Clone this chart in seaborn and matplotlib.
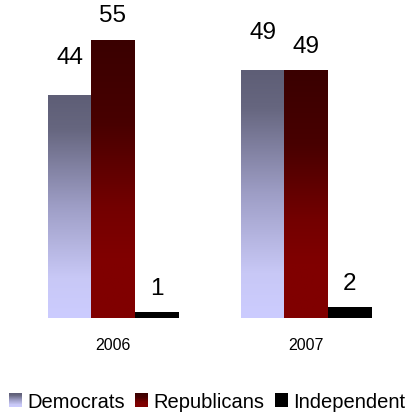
import numpy as np
import pandas as pd
import matplotlib
matplotlib.use("Agg")
import matplotlib.pyplot as plt
import seaborn as sns
from matplotlib import font_manager
from matplotlib.colors import LinearSegmentedColormap
from matplotlib.legend_handler import HandlerBase
from matplotlib.image import BboxImage
from matplotlib.transforms import Bbox, TransformedBbox
from matplotlib.patches import Patch

years = ["2006", "2007"]
parties = ["Democrats", "Republicans", "Independent"]
democrats = [44, 49]
republicans = [55, 49]
independent = [1, 2]

sns.set_style("white")
plt.rcParams["font.family"] = ["Liberation Sans", "DejaVu Sans"]

# pick a narrow font for the year labels if one is installed
narrow = None
for fam in ["Liberation Sans Narrow", "Arial Narrow", "DejaVu Sans Condensed"]:
    try:
        font_manager.findfont(font_manager.FontProperties(family=fam),
                              fallback_to_default=False)
        narrow = fam
        break
    except Exception:
        pass

df = pd.DataFrame({
    "year": years * 3,
    "party": [p for p in parties for _ in years],
    "value": democrats + republicans + independent,
})

# top -> bottom gradients
cmaps = {
    "Democrats": LinearSegmentedColormap.from_list(
        "dem", [(0, "#5e5e76"), (0.15, "#66667f"), (0.5, "#9e9ec6"),
                (0.82, "#c8c8f6"), (1, "#ccccff")]),
    "Republicans": LinearSegmentedColormap.from_list(
        "rep", [(0, "#3a0000"), (0.3, "#480000"), (0.6, "#730000"),
                (0.78, "#800000"), (1, "#800000")]),
    "Independent": LinearSegmentedColormap.from_list(
        "ind", ["#000000", "#000000"]),
}
label_offsets = {"Democrats": 39, "Republicans": 25, "Independent": 25}

fig = plt.figure(figsize=(4.07, 4.14), dpi=100)
ax = fig.add_axes([16.5 / 407, 95 / 414, 386 / 407, 319 / 414])

sns.barplot(data=df, x="year", y="value", hue="party", hue_order=parties,
            order=years, width=0.675, ax=ax, legend=False,
            palette=["#9999cc", "#800000", "#000000"], saturation=1,
            edgecolor="none", linewidth=0)

grad = np.linspace(0, 1, 256).reshape(-1, 1)
for party, cont in zip(parties, ax.containers):
    for bar, val in zip(cont.patches, cont.datavalues):
        x0 = bar.get_x()
        w = bar.get_width()
        h = bar.get_height()
        bar.set_facecolor("none")
        ax.imshow(grad, cmap=cmaps[party], aspect="auto", origin="upper",
                  extent=(x0, x0 + w, 0, h), interpolation="bicubic", zorder=2)
        ax.annotate(f"{val:g}", (x0 + w / 2, h), xytext=(0, label_offsets[party]),
                    textcoords="offset pixels", ha="center", va="center",
                    fontsize=17.5, color="#000000")

ax.set_xlim(-0.5, 1.5)
ax.set_ylim(0, 319 / 5.05)
ax.set_xlabel("")
ax.set_ylabel("")
ax.set_yticks([])
ax.tick_params(axis="x", length=0, pad=14)
for lab in ax.get_xticklabels():
    if narrow == "Liberation Sans Narrow" or narrow == "Arial Narrow":
        lab.set_fontfamily([narrow, "Liberation Sans"])
        lab.set_fontsize(13)
    elif narrow == "DejaVu Sans Condensed":
        lab.set_fontfamily([narrow])
        lab.set_fontsize(11.5)
    else:
        lab.set_fontfamily(["Liberation Sans"])
        lab.set_fontsize(11.5)
    lab.set_color("#000000")
for s in ax.spines.values():
    s.set_visible(False)


class GradHandler(HandlerBase):
    def __init__(self, cmap):
        super().__init__()
        self.cmap = cmap

    def create_artists(self, legend, orig_handle, xdescent, ydescent, width,
                       height, fontsize, trans):
        bb = Bbox.from_bounds(-xdescent, -ydescent, width, height)
        tbb = TransformedBbox(bb, trans)
        img = BboxImage(tbb, cmap=self.cmap, interpolation="bicubic",
                        origin="upper")
        img.set_data(grad)
        img.set_clim(0, 1)
        return [img]


handles = [Patch(label=p) for p in parties]
fig.legend(handles=handles, labels=parties,
           handler_map={h: GradHandler(cmaps[p]) for h, p in zip(handles, parties)},
           loc="center", bbox_to_anchor=(207 / 407, 1 - 403 / 414), ncol=3,
           frameon=False, fontsize=14.5, handlelength=0.62, handleheight=0.62,
           handletextpad=0.3, columnspacing=0.5, borderaxespad=0, borderpad=0,
           labelcolor="#000000")

fig.savefig("out.png", dpi=100)
